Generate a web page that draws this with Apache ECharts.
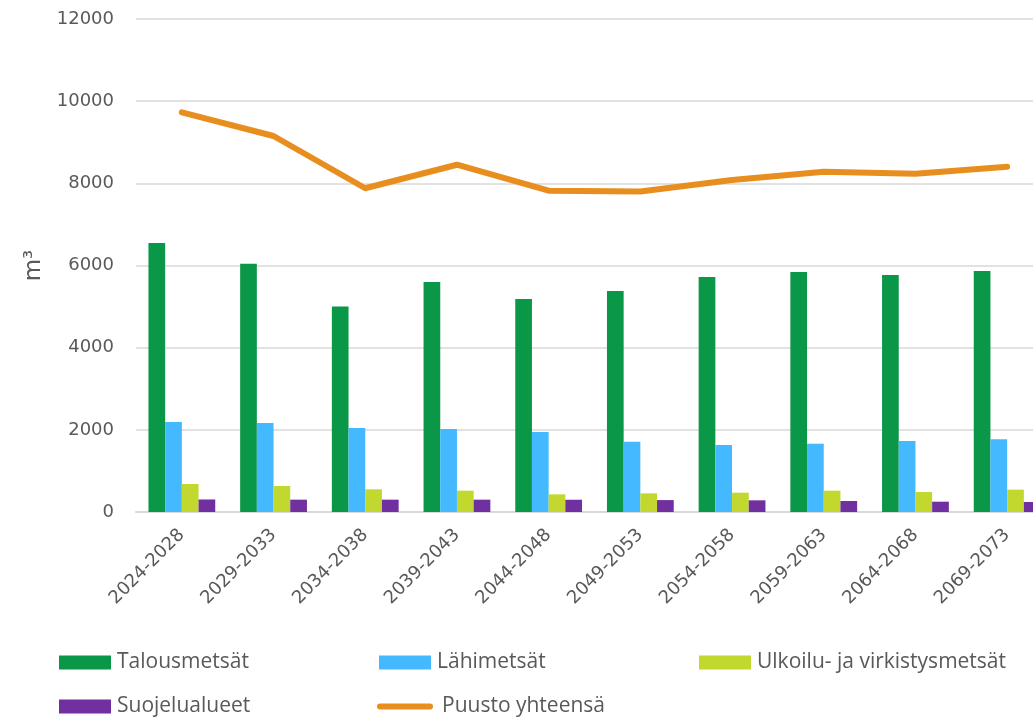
<!DOCTYPE html>
<html>
<head>
<meta charset="utf-8">
<script src="https://cdn.jsdelivr.net/npm/echarts@6/dist/echarts.min.js"></script>
<style>html,body{margin:0;padding:0;background:#fff}</style>
</head>
<body>
<div id="main" style="width:1033px;height:719px"></div>
<script>
// jaksot
var periods = ['2024-2028', '2029-2033', '2034-2038', '2039-2043', '2044-2048',
  '2049-2053', '2054-2058', '2059-2063', '2064-2068', '2069-2073'];
// m3 per jakso, luettu kuvasta
var talous = [6550, 6040, 5000, 5600, 5185, 5380, 5720, 5840, 5770, 5865];
var lahi = [2190, 2166, 2045, 2020, 1947, 1712, 1631, 1663, 1728, 1769];
var ulkoilu = [681, 633, 552, 519, 430, 454, 470, 519, 487, 544];
var suojelu = [305, 300, 300, 300, 298, 290, 284, 268, 251, 243];
var yhteensa = [9729, 9152, 7880, 8453, 7820, 7800, 8080, 8283, 8235, 8405];

var txt = '#595959';
var axisFont = 'DejaVu Sans';
var legFont = 'Open Sans';

function leg(name, left, top) {
  return {
    data: [name], left: left, top: top, orient: 'horizontal',
    itemWidth: 52, itemHeight: 14, itemGap: 0,
    icon: 'rect',
    textStyle: { color: txt, fontSize: 21, fontFamily: legFont, padding: [0, 0, 0, 1] }
  };
}

var chart = echarts.init(document.getElementById('main'));
chart.setOption({
  animation: false,
  grid: { left: 136, width: 917, top: 19, bottom: 207, outerBoundsMode: 'none', containLabel: false },
  legend: [
    leg('Talousmetsät', 54, 647),
    leg('Lähimetsät', 374, 647),
    leg('Ulkoilu- ja virkistysmetsät', 694, 647),
    leg('Suojelualueet', 54, 691),
    {
      data: [{ name: 'Puusto yhteensä', icon: 'path://M3,0 L53,0 A3,3 0 0 1 53,6 L3,6 A3,3 0 0 1 3,0 Z' }],
      left: 372, top: 691, itemWidth: 56, itemHeight: 14, itemGap: 0,
      textStyle: { color: txt, fontSize: 21, fontFamily: legFont, padding: [0, 0, 0, 4] }
    }
  ],
  xAxis: {
    type: 'category',
    data: periods,
    axisLine: { lineStyle: { color: '#d9d9d9', width: 2 } },
    axisTick: { show: false },
    axisLabel: { rotate: 45, margin: 20, color: txt, fontSize: 18, fontFamily: axisFont, interval: 0 }
  },
  yAxis: {
    type: 'value',
    min: 0, max: 12000, interval: 2000,
    name: 'm³',
    nameLocation: 'middle',
    nameGap: 86,
    nameTextStyle: { color: txt, fontSize: 23, fontFamily: axisFont },
    axisLine: { show: false },
    axisTick: { show: false },
    axisLabel: { margin: 22, color: txt, fontSize: 18, fontFamily: axisFont,
      formatter: function (v) { return String(v); } },
    splitLine: { lineStyle: { color: '#d9d9d9', width: 1.5 } }
  },
  series: [
    { name: 'Talousmetsät', type: 'bar', data: talous, barWidth: 16.7, barGap: '0%',
      itemStyle: { color: '#0b9748' } },
    { name: 'Lähimetsät', type: 'bar', data: lahi, barWidth: 16.7, barGap: '0%',
      itemStyle: { color: '#45b9ff' } },
    { name: 'Ulkoilu- ja virkistysmetsät', type: 'bar', data: ulkoilu, barWidth: 16.7, barGap: '0%',
      itemStyle: { color: '#c2d82e' } },
    { name: 'Suojelualueet', type: 'bar', data: suojelu, barWidth: 16.7, barGap: '0%',
      itemStyle: { color: '#7030a0' } },
    { name: 'Puusto yhteensä', type: 'line', data: yhteensa, symbol: 'none',
      lineStyle: { color: '#e88e1e', width: 6, cap: 'round', join: 'round' },
      itemStyle: { color: '#e88e1e' } }
  ]
});
</script>
</body>
</html>
